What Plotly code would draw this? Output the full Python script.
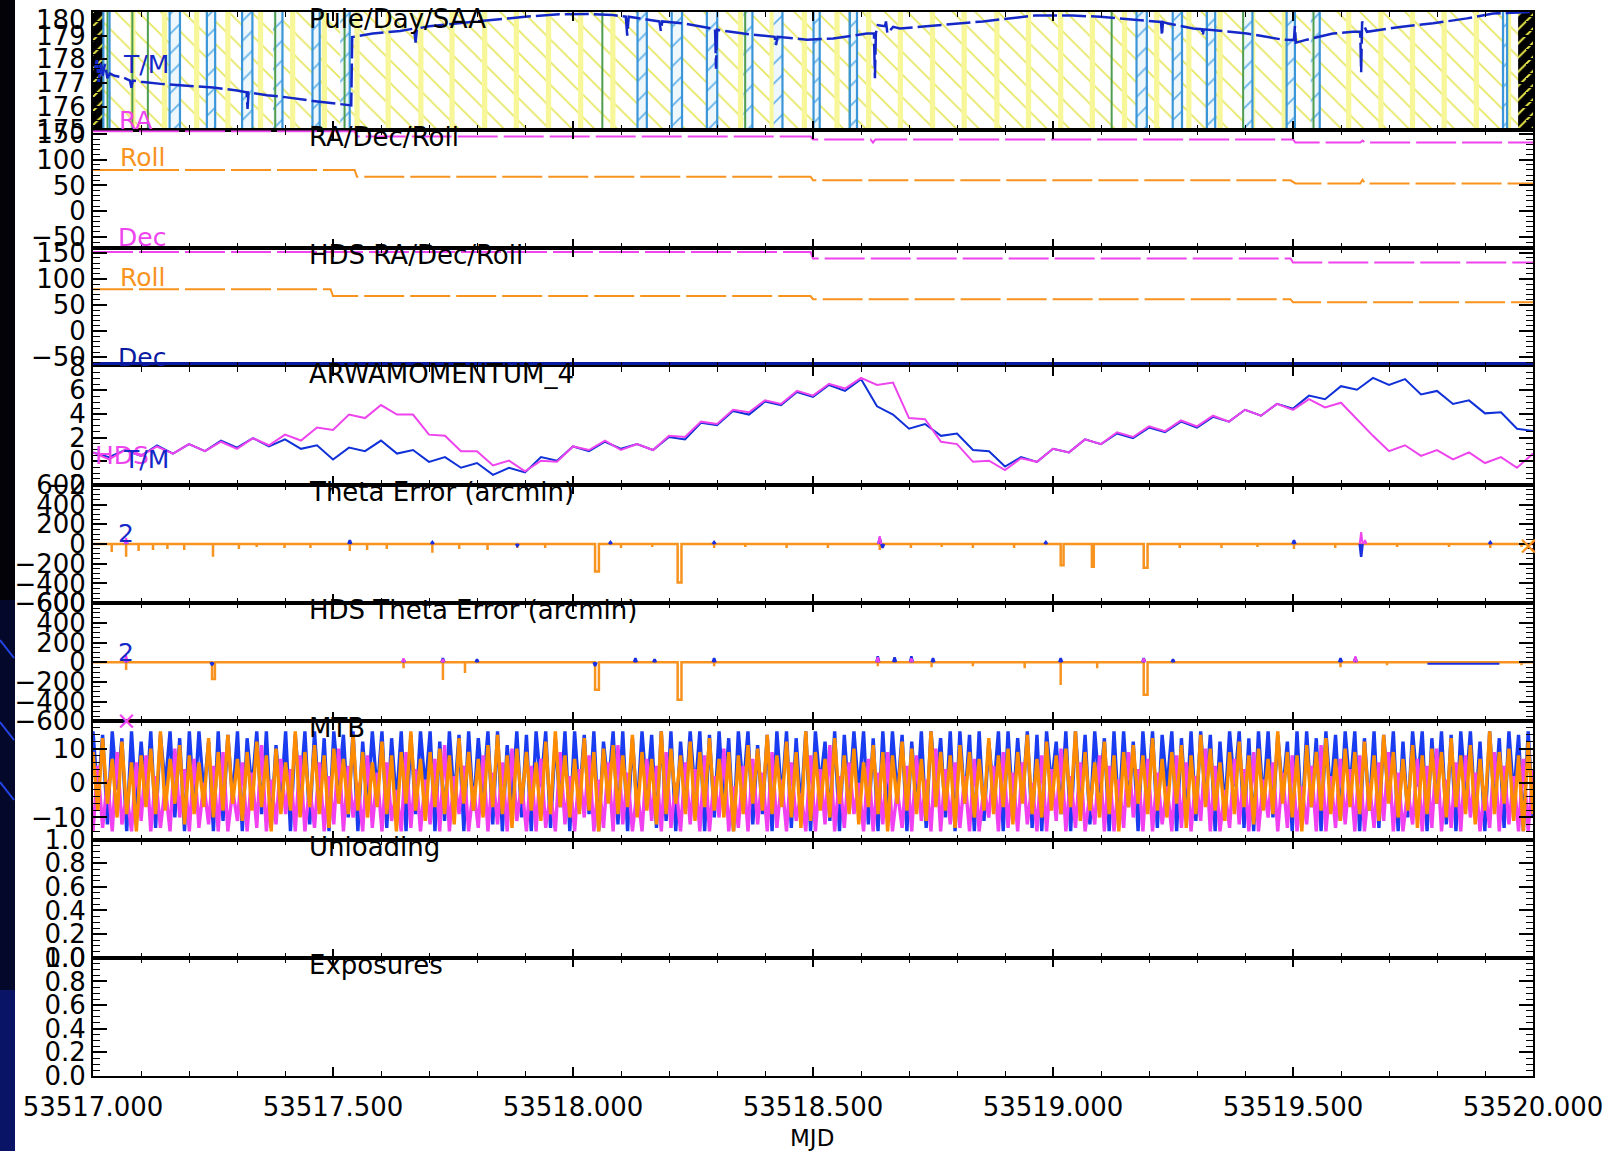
import numpy as np
import plotly.graph_objects as go
from plotly.subplots import make_subplots

X0, X1 = 53517.0, 53520.0

# ---------------- Panel 1 : Pole/Day/SAA ----------------
day_t = [53517.015, 53517.083, 53517.149, 53517.216, 53517.281, 53517.349, 53517.416, 53517.482,
         53517.550, 53517.615, 53517.683, 53517.748, 53517.816, 53517.882, 53517.949, 53518.016,
         53518.083, 53518.148, 53518.216, 53518.283, 53518.349, 53518.415, 53518.482, 53518.550,
         53518.616, 53518.682, 53518.749, 53518.815, 53518.883, 53518.949, 53519.016, 53519.082,
         53519.149, 53519.216, 53519.283, 53519.348, 53519.416, 53519.482, 53519.549, 53519.616,
         53519.683, 53519.749, 53519.815, 53519.882, 53519.949]
saa_band_start = [53517.1596, 53517.2372, 53517.3106, 53517.3750, 53517.4572, 53517.5150, 53518.1344,
                  53518.2056, 53518.2789, 53518.3550, 53518.4180, 53518.5011, 53518.5766, 53519.1740,
                  53519.2494, 53519.3206, 53519.3970, 53519.4867, 53519.5370, 53519.9375]
saa_band_end = [53517.1812, 53517.2545, 53517.3321, 53517.3947, 53517.4723, 53517.5349, 53518.1538,
                53518.2272, 53518.3005, 53518.3738, 53518.4364, 53518.5140, 53518.5917, 53519.1955,
                53519.2688, 53519.3379, 53519.4155, 53519.5040, 53519.5557, 53519.9461]
saa_line_t = [53517.0216, 53517.0345, 53517.1596, 53517.1812, 53517.2372, 53517.2545, 53517.3106,
              53517.3321, 53517.3947, 53517.4572, 53517.4723, 53517.5349, 53518.1344, 53518.1538,
              53518.2056, 53518.2272, 53518.2789, 53518.3005, 53518.3738, 53518.4364, 53518.5011,
              53518.5140, 53518.5766, 53518.5917, 53519.1740, 53519.1955, 53519.2494, 53519.2688,
              53519.3206, 53519.3379, 53519.4155, 53519.4867, 53519.5040, 53519.5557, 53519.9375,
              53519.9461]
pole_line_t = [53517.0302, 53517.0820, 53517.1143, 53517.3796, 53517.5241, 53518.0611, 53518.3587,
               53518.5766, 53519.1222, 53519.3206, 53519.3961, 53519.5427]
edge_start = [53517.000, 53519.969]
edge_end = [53517.022, 53520.000]

tm_t = [53517.004, 53517.008, 53517.012, 53517.016, 53517.020, 53517.025, 53517.030, 53517.035, 53517.045, 53517.0625,
        53517.077, 53517.080, 53517.083, 53517.100, 53517.146, 53517.200, 53517.250, 53517.300, 53517.320, 53517.322,
        53517.324, 53517.3625, 53517.400, 53517.458, 53517.500, 53517.521, 53517.538, 53517.540, 53517.560, 53517.583,
        53517.640, 53517.669, 53517.672, 53517.675, 53517.700, 53517.770, 53517.842, 53517.900, 53517.971, 53518.030,
        53518.083, 53518.110, 53518.113, 53518.116, 53518.160, 53518.180, 53518.183, 53518.186, 53518.229, 53518.285,
        53518.296, 53518.298, 53518.300, 53518.306, 53518.369, 53518.420, 53518.423, 53518.426, 53518.4875, 53518.542,
        53518.583, 53518.6125, 53518.627, 53518.629, 53518.631, 53518.635, 53518.650, 53518.652, 53518.655, 53518.667,
        53518.681, 53518.760, 53518.854, 53518.9625, 53519.040, 53519.098, 53519.140, 53519.1875, 53519.225, 53519.227,
        53519.229, 53519.2375, 53519.292, 53519.310, 53519.312, 53519.314, 53519.333, 53519.404, 53519.479, 53519.502,
        53519.504, 53519.506, 53519.529, 53519.583, 53519.625, 53519.640, 53519.642, 53519.644, 53519.654, 53519.723,
        53519.792, 53519.8625, 53519.917, 53519.967, 53519.994]
tm_v = [177.6, 178.0, 177.0, 177.9, 177.3, 177.8, 177.2, 177.4, 177.3, 177.24,
        177.1, 176.8, 177.1, 177.05, 176.95, 176.88, 176.81, 176.68, 176.6, 175.9,
        176.6, 176.48, 176.4, 176.24, 176.15, 176.10, 176.05, 178.94, 179.0, 179.09,
        179.2, 179.3, 178.7, 179.3, 179.4, 179.55, 179.7, 179.8, 179.9, 179.92,
        179.87, 179.8, 179.0, 179.8, 179.66, 179.6, 179.2, 179.6, 179.52, 179.3,
        179.28, 177.6, 179.26, 179.23, 179.05, 178.95, 178.6, 178.95, 178.83, 178.88,
        179.0, 179.09, 179.1, 177.2, 179.1, 179.44, 179.4, 179.6, 179.1, 179.37,
        179.3, 179.45, 179.6, 179.85, 179.85, 179.8, 179.73, 179.66, 179.58, 179.0,
        179.58, 179.52, 179.3, 179.27, 179.0, 179.27, 179.23, 179.09, 178.83, 178.82,
        179.4, 178.7, 178.83, 179.09, 179.16, 179.16, 177.45, 179.6, 179.16, 179.37,
        179.52, 179.73, 179.94, 179.97, 180.0]

# ---------------- Panel 2 : RA/Dec/Roll ----------------
ra_t = [53517.0, 53517.545, 53517.55, 53518.495, 53518.5, 53518.62, 53518.625, 53518.63,
        53519.5, 53519.505, 53519.64, 53519.645, 53519.65, 53520.0]
ra_v = [155, 155, 145, 145, 139, 139, 133, 139, 139, 133, 133, 137, 133, 133]
roll_t = [53517.0, 53517.545, 53517.55, 53518.495, 53518.5, 53519.495, 53519.505,
          53519.64, 53519.645, 53519.65, 53520.0]
roll_v = [80, 80, 67, 67, 60, 60, 54, 54, 61, 54, 54]

# ---------------- Panel 3 : HDS RA/Dec/Roll ----------------
hra_t = [53517.0, 53518.495, 53518.5, 53519.495, 53519.5, 53520.0]
hra_v = [151, 151, 139, 139, 131, 131]
hroll_t = [53517.0, 53517.495, 53517.50, 53518.495, 53518.5, 53519.495, 53519.5, 53520.0]
hroll_v = [80, 80, 67, 67, 61, 61, 55, 55]
hdec_t = [53517.0, 53520.0]
hdec_v = [-63, -63]

# ---------------- Panel 4 : ARWAMOMENTUM_4 ----------------
arw_blue = [0.75, 0.35, 0.95, 0.45, 1.35, 0.65, 1.45, 0.85, 1.75, 1.15,
            1.95, 1.25, 1.85, 1.05, 1.35, 0.15, 1.15, 0.85, 1.75, 0.65,
            0.95, -0.05, 0.35, -0.55, -0.15, -1.15, -0.55, -0.95, 0.35, 0.05,
            1.25, 0.85, 1.65, 1.05, 1.45, 0.95, 2.05, 1.85, 3.25, 3.05,
            4.25, 3.95, 5.05, 4.75, 5.85, 5.45, 6.45, 5.95, 6.95, 4.65,
            3.95, 2.75, 3.15, 2.15, 2.35, 0.95, 0.85, -0.45, 0.35, -0.05,
            1.05, 0.75, 1.85, 1.45, 2.35, 1.95, 2.85, 2.45, 3.35, 2.85,
            3.75, 3.35, 4.35, 3.85, 4.85, 4.45, 5.55, 5.25, 6.35, 6.05,
            7.05, 6.45, 6.95, 5.65, 5.95, 4.85, 5.15, 4.05, 4.15, 2.75,
            2.55]
arw_mag = [0.75, 0.15, 0.95, 0.45, 1.25, 0.65, 1.45, 0.85, 1.65, 1.05,
           1.95, 1.35, 2.25, 1.75, 2.85, 2.65, 3.95, 3.65, 4.75, 3.95,
           3.95, 2.25, 2.15, 0.85, 0.85, -0.35, 0.05, -0.85, 0.05, -0.05,
           1.25, 0.95, 1.75, 0.95, 1.45, 0.95, 2.15, 2.05, 3.35, 3.15,
           4.35, 4.15, 5.15, 4.85, 5.95, 5.55, 6.55, 6.15, 7.05, 6.45,
           6.65, 3.65, 3.55, 1.65, 1.45, -0.05, 0.05, -0.75, 0.25, -0.05,
           1.05, 0.75, 1.85, 1.45, 2.45, 2.05, 2.95, 2.55, 3.45, 2.95,
           3.85, 3.35, 4.35, 3.85, 4.85, 4.35, 5.25, 4.55, 4.95, 3.55,
           2.15, 0.85, 1.35, 0.45, 0.95, 0.15, 0.75, -0.15, 0.35, -0.55,
           0.65]

# ---------------- Panel 5 : Theta Error ----------------
th_spike_t = [53517.039, 53517.069, 53517.095, 53517.125, 53517.155, 53517.190, 53517.250, 53517.304,
              53517.341, 53517.399, 53517.453, 53517.535, 53517.571, 53517.612, 53517.707, 53517.763,
              53517.822, 53517.884, 53517.942, 53518.100, 53518.165, 53518.294, 53518.359, 53518.445,
              53518.531, 53518.639, 53518.704, 53518.768, 53518.833, 53518.919, 53519.264, 53519.351,
              53519.426, 53519.502, 53519.588, 53519.642, 53519.717, 53519.825, 53519.911, 53519.976]
th_spike_v = [-80, -130, -70, -60, -50, -60, -130, -50, -30, -40, -40, -70, -60, -50, -90, -50,
              -60, -40, -40, -40, -30, -40, -30, -40, -40, -60, -40, -30, -40, -40, -40, -40,
              -30, -50, -40, -60, -30, -30, -40, -30]
th_well_t = [53518.046, 53518.218, 53519.016, 53519.081, 53519.189]
th_well_v = [-280, -390, -215, -230, -240]
th_well_w = [0.008, 0.008, 0.006, 0.004, 0.008]
th_blue_t = [53517.069, 53517.535, 53517.707, 53517.884, 53518.078, 53518.294, 53518.639, 53518.645,
             53518.985, 53519.502, 53519.642, 53519.911]
th_blue_v = [30, 40, 20, -20, 20, 20, 60, -40, 20, 40, -130, 20]
th_mag_t = [53517.069, 53518.639, 53519.642, 53519.650]
th_mag_v = [60, 80, 120, 40]

# ---------------- Panel 6 : HDS Theta Error ----------------
hth_spike_t = [53517.069, 53517.647, 53517.729, 53517.775, 53518.294, 53518.635, 53518.747, 53518.833,
               53518.941, 53519.016, 53519.092, 53519.599, 53519.696, 53519.976]
hth_spike_v = [-80, -60, -180, -110, -40, -40, -50, -40, -60, -230, -60, -50, -30, -30]
hth_well_t = [53517.248, 53518.046, 53518.218, 53519.189]
hth_well_v = [-170, -280, -380, -330]
hth_well_w = [0.006, 0.008, 0.008, 0.008]
hth_blue_t = [53517.069, 53517.248, 53517.647, 53517.729, 53517.800, 53518.046, 53518.130, 53518.170,
              53518.294, 53518.635, 53518.670, 53518.705, 53518.750, 53519.016, 53519.189, 53519.250,
              53519.599, 53519.630]
hth_blue_v = [30, -30, 30, 40, 30, -40, 40, 30, 40, 60, 50, 60, 40, 40, 40, 30, 40, 50]
hth_flat_t = [53519.780, 53519.930]
hth_flat_v = [-15, -15]
hth_mag_t = [53517.069, 53517.647, 53517.729, 53518.635, 53518.705, 53519.189, 53519.630]
hth_mag_v = [70, 40, 30, 50, 40, 40, 60]

# ---------------- Panel 7 : MTB (300 samples per axis) ----------------
mtb_blue = [15, -4, 14, -12, 15, -2, 13, -14, 15, -8, 12, -6, 15, -13, 14, -1, 15, -10, 13, -14,
            15, -7, 15, -3, 12, -14, 15, -11, 14, -5, 15, -14, 13, -2, 15, -9, 15, -13, 11, -6,
            15, -14, 14, -4, 15, -12, 15, -8, 13, -14, 15, -1, 14, -10, 15, -14, 12, -7, 15, -3,
            15, -13, 13, -6, 15, -14, 14, -9, 15, -2, 15, -14, 12, -11, 15, -5, 14, -14, 15, -8,
            13, -3, 15, -12, 15, -14, 11, -6, 15, -10, 14, -14, 15, -1, 15, -13, 13, -7, 15, -14,
            15, -5, 14, -9, 15, -14, 12, -2, 15, -12, 15, -14, 13, -8, 15, -4, 14, -13, 15, -11,
            15, -14, 12, -6, 15, -3, 15, -14, 14, -10, 15, -7, 13, -14, 15, -2, 15, -12, 11, -9,
            14, -14, 15, -5, 15, -13, 13, -8, 15, -14, 15, -1, 12, -11, 15, -14, 14, -6, 15, -3,
            15, -12, 13, -14, 15, -9, 15, -4, 14, -14, 12, -7, 15, -13, 15, -2, 13, -10, 15, -14,
            15, -6, 14, -14, 15, -11, 12, -3, 15, -14, 15, -8, 13, -5, 15, -13, 14, -14, 15, -1,
            12, -9, 15, -14, 15, -6, 14, -12, 15, -3, 13, -14, 15, -10, 15, -7, 12, -14, 15, -4,
            15, -13, 14, -2, 15, -14, 13, -9, 15, -11, 15, -5, 14, -14, 12, -8, 15, -1, 15, -13,
            13, -14, 15, -6, 15, -10, 14, -3, 12, -14, 15, -12, 15, -7, 13, -14, 15, -4, 14, -11,
            15, -2, 15, -14, 13, -8, 15, -13, 14, -5, 15, -14, 12, -10, 15, -1, 15, -14, 13, -6,
            15, -12, 14, -14, 15, -3, 15, -9, 12, -14, 15, -7, 13, -13, 15, -4, 14, -14, 15, -10]
mtb_mag = [-14, 5, -13, 1, -14, 9, -12, -3, -14, 6, -11, 8, -14, 2, -13, -1, -14, 10, -10, 4,
           -14, 7, -13, 0, -12, 5, -14, 9, -14, -2, -11, 6, -14, 3, -13, 11, -14, 1, -12, 7,
           -9, 4, -14, 8, -14, -1, -13, 6, -14, 2, -12, 10, -14, 5, -10, 0, -14, 8, -13, 3,
           -14, 6, -11, -2, -14, 9, -13, 4, -14, 1, -12, 7, -14, 11, -14, 2, -9, 5, -14, -1,
           -13, 8, -14, 3, -12, 6, -14, 10, -11, 0, -14, 5, -14, 7, -13, -3, -14, 9, -12, 2,
           -14, 4, -10, 8, -14, 1, -13, 6, -14, 11, -12, 3, -14, -2, -14, 7, -11, 5, -14, 9,
           -13, 0, -14, 6, -12, 4, -14, 8, -14, 2, -10, 10, -14, -1, -13, 5, -14, 7, -12, 3,
           -14, 9, -13, 1, -14, 6, -11, -3, -14, 8, -14, 4, -12, 11, -14, 2, -13, 6, -9, 0,
           -14, 7, -14, 3, -12, 9, -14, -2, -13, 5, -14, 8, -11, 1, -14, 10, -14, 4, -12, 6,
           -13, 2, -14, 7, -14, -1, -10, 5, -14, 9, -13, 3, -14, 6, -12, 0, -14, 8, -14, 4,
           -11, 10, -14, 2, -13, 6, -14, -3, -12, 8, -14, 5, -14, 1, -13, 9, -10, 4, -14, 7,
           -14, 3, -12, -1, -14, 8, -13, 6, -14, 2, -11, 10, -14, 5, -14, -2, -13, 7, -12, 4,
           -14, 9, -14, 1, -10, 6, -14, 3, -13, 8, -14, -1, -12, 5, -14, 11, -14, 2, -13, 7,
           -12, 4, -14, 8, -14, 0, -13, 6, -11, 9, -14, 3, -14, -2, -12, 7, -14, 5, -13, 10,
           -14, 1, -13, 6, -14, 8, -10, 3, -14, -1, -13, 9, -14, 5, -12, 2, -14, 7, -14, 4]
mtb_orange = [9, -8, 13, -6, 7, -10, 12, -9, 6, -14, 8, -7, 10, -9, 15, -8, 7, -6, 11, -12,
              8, -9, 6, -7, 13, -10, 9, -8, 14, -6, 7, -11, 9, -8, 12, -7, 8, -14, 10, -9,
              6, -8, 15, -10, 9, -7, 11, -9, 8, -13, 10, -6, 7, -9, 14, -8, 9, -10, 6, -7,
              12, -9, 8, -14, 9, -6, 15, -8, 7, -11, 9, -7, 10, -9, 8, -12, 13, -6, 9, -8,
              7, -10, 11, -7, 14, -9, 8, -13, 10, -6, 9, -8, 6, -11, 12, -9, 15, -7, 8, -10,
              7, -9, 13, -8, 9, -14, 10, -6, 11, -9, 8, -7, 14, -10, 9, -8, 7, -12, 15, -9,
              10, -6, 8, -9, 12, -11, 9, -7, 13, -8, 7, -10, 9, -14, 8, -9, 11, -6, 10, -8,
              14, -9, 8, -7, 12, -10, 9, -13, 15, -11, 9, -8, 7, -10, 13, -6, 8, -9, 10, -12,
              6, -7, 11, -9, 9, -14, 8, -6, 12, -8, 10, -9, 7, -11, 15, -7, 9, -8, 8, -13,
              11, -6, 9, -10, 7, -8, 13, -9, 8, -7, 10, -12, 9, -6, 14, -9, 7, -10, 12, -8,
              8, -9, 10, -7, 15, -11, 9, -8, 6, -10, 12, -9, 8, -14, 9, -7, 11, -6, 8, -9,
              13, -8, 7, -10, 9, -6, 11, -13, 8, -9, 14, -7, 10, -8, 6, -11, 9, -9, 12, -7,
              8, -12, 10, -8, 7, -9, 15, -6, 9, -10, 8, -14, 11, -7, 9, -8, 13, -9, 7, -11,
              10, -7, 9, -9, 12, -8, 8, -11, 14, -6, 9, -10, 7, -8, 11, -13, 8, -9, 10, -6,
              9, -10, 13, -7, 8, -9, 11, -12, 7, -8, 15, -9, 9, -6, 10, -11, 8, -14, 12, -9]

panel_titles = ["Pule/Day/SAA", "RA/Dec/Roll", "HDS RA/Dec/Roll", "ARWAMOMENTUM_4",
                "Theta Error (arcmin)", "HDS Theta Error (arcmin)", "MTB", "Unloading", "Exposures"]

# ---------------- styling ----------------
FONT = "DejaVu Sans"
C_BLUE = "#1428c8"
C_DBLUE = "#0a1aa0"
C_MAG = "#ee44ee"
C_ORANGE = "#f7931e"
C_SAA = "#3a96d8"
C_POLE = "#4f9d4f"

W, H = 1623, 1151
L, R, T, B = 93, 1533, 12, 1076

fig = make_subplots(rows=9, cols=1, shared_xaxes=True, vertical_spacing=0)


def vlines(ts, y0, y1):
    xs, ys = [], []
    for t in ts:
        xs += [t, t, None]
        ys += [y0, y1, None]
    return xs, ys


def spike_path(st, sv, wt, wv, ww):
    ev = [(t, v, 0.0) for t, v in zip(st, sv)] + list(zip(wt, wv, ww))
    ev.sort()
    xs, ys = [X0], [0]
    for t, v, w in ev:
        xs += [t, t, t + w, t + w]
        ys += [0, v, v, 0]
    xs.append(X1)
    ys.append(0)
    return xs, ys


def bumps(ts, vs, hw=0.003):
    xs, ys = [], []
    for t, v in zip(ts, vs):
        xs += [t - hw, t, t + hw, None]
        ys += [0, v, 0, None]
    return xs, ys


def line(x, y, color, width=2, dash=None, row=1):
    fig.add_trace(go.Scatter(x=x, y=y, mode="lines", hoverinfo="skip",
                             line=dict(color=color, width=width, dash=dash)), row, 1)


# panel 1 background
fig.add_trace(go.Bar(x=[(X0 + X1) / 2], y=[5], base=[175], width=[X1 - X0], hoverinfo="skip",
                     marker=dict(color="white", line_width=0,
                                 pattern=dict(shape="\\", fgcolor="#e6e65c", bgcolor="white",
                                              size=16, solidity=0.1))), 1, 1)
fig.add_trace(go.Bar(x=day_t, y=[5] * len(day_t), base=175, width=0.011, hoverinfo="skip",
                     marker=dict(color="#f7f79a", line_width=0)), 1, 1)
fig.add_trace(go.Bar(x=[(a + b) / 2 for a, b in zip(saa_band_start, saa_band_end)],
                     y=[5] * len(saa_band_start), base=175,
                     width=[b - a for a, b in zip(saa_band_start, saa_band_end)], hoverinfo="skip",
                     marker=dict(color="#eef7fc", line_width=0,
                                 pattern=dict(shape="/", fgcolor="#62b2ea", bgcolor="#eef7fc",
                                              size=14, solidity=0.12))), 1, 1)
fig.add_trace(go.Bar(x=[(a + b) / 2 for a, b in zip(edge_start, edge_end)],
                     y=[5] * len(edge_start), base=175,
                     width=[b - a for a, b in zip(edge_start, edge_end)], hoverinfo="skip",
                     marker=dict(color="black", line_width=0,
                                 pattern=dict(shape="/", fgcolor="#e8e84a", bgcolor="black",
                                              size=10, solidity=0.2))), 1, 1)
gx, gy = vlines(pole_line_t, 175, 180)
line(gx, gy, C_POLE, 2, row=1)
bx, by = vlines(saa_line_t, 175, 180)
line(bx, by, C_SAA, 2.2, row=1)
line(tm_t, tm_v, C_BLUE, 2.5, dash="24px,5px", row=1)

# panel 2
line(ra_t, ra_v, C_MAG, 2, dash="40px,6px", row=2)
line(roll_t, roll_v, C_ORANGE, 2, dash="40px,6px", row=2)
# panel 3
line(hra_t, hra_v, C_MAG, 2, dash="40px,6px", row=3)
line(hroll_t, hroll_v, C_ORANGE, 2, dash="40px,6px", row=3)
line(hdec_t, hdec_v, C_DBLUE, 4, row=3)
# panel 4
line(np.linspace(X0, X1, len(arw_blue)), arw_blue, "#1030d8", 2, row=4)
line(np.linspace(X0, X1, len(arw_mag)), arw_mag, C_MAG, 2, row=4)
# panel 5
ox, oy = spike_path(th_spike_t, th_spike_v, th_well_t, th_well_v, th_well_w)
line(ox, oy, C_ORANGE, 2.5, row=5)
bx, by = bumps(th_blue_t, th_blue_v)
line(bx, by, "#1a2fe0", 2.5, row=5)
mx, my = bumps(th_mag_t, th_mag_v)
line(mx, my, C_MAG, 2, row=5)
# panel 6
ox, oy = spike_path(hth_spike_t, hth_spike_v, hth_well_t, hth_well_v, hth_well_w)
line(ox, oy, C_ORANGE, 2.5, row=6)
line(hth_flat_t, hth_flat_v, "#1a2fe0", 2, row=6)
bx, by = bumps(hth_blue_t, hth_blue_v)
line(bx, by, "#1a2fe0", 2.5, row=6)
mx, my = bumps(hth_mag_t, hth_mag_v)
line(mx, my, C_MAG, 2, row=6)
# panel 7
line(np.linspace(X0, X1, len(mtb_blue)), mtb_blue, "#1a3cf0", 3.4, row=7)
line(np.linspace(X0, X1, len(mtb_mag)), mtb_mag, "#f040f0", 3.4, row=7)
line(np.linspace(X0, X1, len(mtb_orange)), mtb_orange, "#ff8c00", 3.4, row=7)
# panels 8, 9 (empty: Unloading / Exposures)
for r in (8, 9):
    fig.add_trace(go.Scatter(x=[], y=[], mode="lines", hoverinfo="skip"), r, 1)

# axes
yconf = [
    dict(range=[175, 180], dtick=1, tick0=175, minor=0.2, fmt="d", vals=[175, 176, 177, 178, 179]),
    dict(range=[-72, 157], dtick=50, tick0=0, minor=10, fmt="d"),
    dict(range=[-68, 158], dtick=50, tick0=0, minor=10, fmt="d"),
    dict(range=[-2, 8], dtick=2, tick0=0, minor=0.5, fmt="d"),
    dict(range=[-600, 600], dtick=200, tick0=0, minor=50, fmt="d"),
    dict(range=[-600, 600], dtick=200, tick0=0, minor=50, fmt="d"),
    dict(range=[-16.4, 17.9], dtick=10, tick0=0, minor=2, fmt="d"),
    dict(range=[0, 1], dtick=0.2, tick0=0, minor=0.05, fmt=".1f"),
    dict(range=[0, 1], dtick=0.2, tick0=0, minor=0.05, fmt=".1f"),
]
tickfont = dict(family=FONT, size=26, color="black")
for i, c in enumerate(yconf, start=1):
    extra = dict(tickmode="array", tickvals=c["vals"]) if "vals" in c else dict(dtick=c["dtick"], tick0=c["tick0"])
    fig.update_yaxes(range=c["range"], tickformat=c["fmt"],
                     ticks="inside", ticklen=14, tickwidth=1.5, tickcolor="black",
                     minor=dict(dtick=c["minor"], tick0=c["tick0"], ticks="inside", ticklen=7,
                                tickwidth=1.2, tickcolor="black", showgrid=False),
                     showline=True, linecolor="black", linewidth=2, mirror="ticks",
                     showgrid=False, zeroline=False, automargin=False, tickfont=tickfont,
                     ticklabeloverflow="allow", visible=True, row=i, col=1, **extra)
fig.update_xaxes(range=[X0, X1], dtick=0.5, tick0=X0, tickformat=".3f",
                 ticks="inside", ticklen=9, tickwidth=1.5, tickcolor="black",
                 minor=dict(dtick=0.1, tick0=X0, ticks="inside", ticklen=5, tickwidth=1.2,
                            tickcolor="black", showgrid=False),
                 showline=True, linecolor="black", linewidth=2, mirror="ticks",
                 showgrid=False, zeroline=False, automargin=False, tickfont=tickfont,
                 ticklabeloverflow="allow", visible=True)
fig.update_xaxes(ticklabelstandoff=7, showticklabels=True, row=9, col=1)


def px2paper(x, y):
    return (x - L) / (R - L), (B - y) / (B - T)


annotations = []
for i, title in enumerate(panel_titles, start=1):
    key = "yaxis" if i == 1 else f"yaxis{i}"
    top = fig.layout[key].domain[1]
    annotations.append(dict(text=title, xref="paper", yref="paper", x=(307 - L) / (R - L), y=top,
                            xanchor="left", yanchor="middle", yshift=-7, showarrow=False,
                            font=dict(family=FONT, size=26, color="black")))

# top tick label of panel 1 (sits just inside the frame, as in the original)
tx_, ty_ = px2paper(88, 20)
annotations.append(dict(text="180", xref="paper", yref="paper", x=tx_, y=ty_, xanchor="right",
                        yanchor="middle", showarrow=False, font=tickfont))

labels_in = [("T/M", 146, 64, C_BLUE), ("RA", 135, 121, C_MAG), ("Roll", 142, 158, C_ORANGE),
             ("Dec", 142, 238, C_MAG), ("Roll", 142, 277, C_ORANGE), ("Dec", 142, 357, C_DBLUE),
             ("HDS", 122, 456, C_MAG), ("T/M", 146, 459, C_BLUE), ("2", 126, 533, C_BLUE),
             ("2", 126, 652, C_BLUE), ("×", 126, 720, C_MAG), ("×", 1528, 545, C_ORANGE)]
for txt, xp, yp, col in labels_in:
    px, py = px2paper(xp, yp)
    annotations.append(dict(text=txt, xref="paper", yref="paper", x=px, y=py, xanchor="center",
                            yanchor="middle", showarrow=False,
                            font=dict(family=FONT, size=25, color=col)))
mx_, my_ = px2paper(812, 1138)
annotations.append(dict(text="MJD", xref="paper", yref="paper", x=mx_, y=my_, xanchor="center",
                        yanchor="middle", showarrow=False, font=dict(family=FONT, size=23, color="black")))

shapes = []
sx0, sy0 = px2paper(0, H)
sx1, sy1 = px2paper(15, 0)
shapes.append(dict(type="rect", xref="paper", yref="paper", x0=sx0, x1=sx1, y0=sy0, y1=sy1,
                   fillcolor="#020208", line_width=0, layer="above"))
bx0, by0 = px2paper(0, H)
bx1, by1 = px2paper(15, 600)
shapes.append(dict(type="rect", xref="paper", yref="paper", x0=bx0, x1=bx1, y0=by0, y1=by1,
                   fillcolor="#04082a", line_width=0, layer="above"))
cx0, cy0 = px2paper(0, H)
cx1, cy1 = px2paper(15, 990)
shapes.append(dict(type="rect", xref="paper", yref="paper", x0=cx0, x1=cx1, y0=cy0, y1=cy1,
                   fillcolor="#0a1466", line_width=0, layer="above"))
for ya in (640, 722, 782):
    ax0, ay0 = px2paper(0, ya)
    ax1, ay1 = px2paper(14, ya + 18)
    shapes.append(dict(type="line", xref="paper", yref="paper", x0=ax0, y0=ay0, x1=ax1, y1=ay1,
                       line=dict(color="#2444e8", width=2), layer="above"))

fig.update_layout(width=W, height=H, margin=dict(l=L, r=W - R, t=T, b=H - B, autoexpand=False),
                  template="none", plot_bgcolor="white", paper_bgcolor="white",
                  showlegend=False, barmode="overlay", font=dict(family=FONT, color="black"),
                  annotations=annotations, shapes=shapes)

fig.write_html("out.html", config={"displayModeBar": False},
               post_script="document.body.style.margin='0';document.body.style.overflow='hidden';")
